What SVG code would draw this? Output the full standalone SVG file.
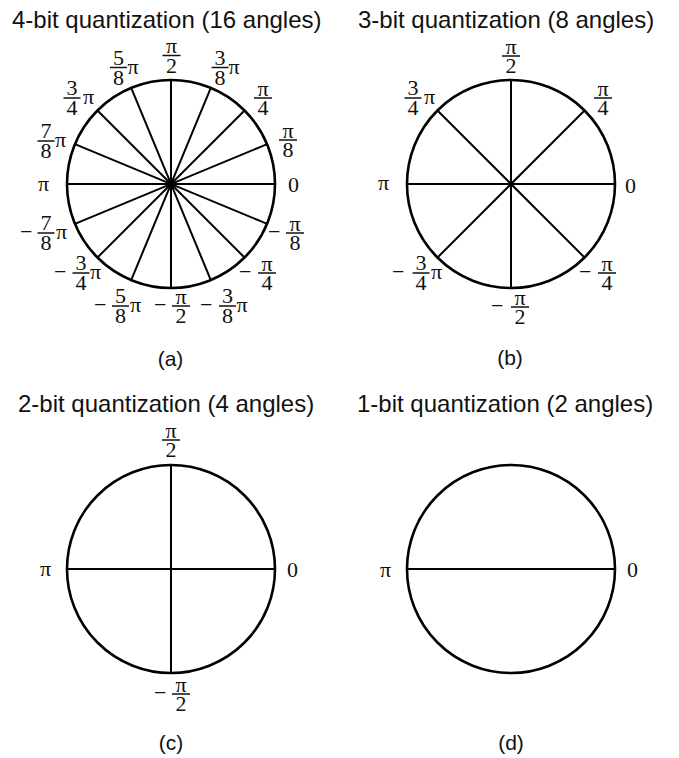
<svg xmlns="http://www.w3.org/2000/svg" width="679" height="758" viewBox="0 0 679 758">
<style>
.ttl{font-family:"Liberation Sans",Arial,sans-serif;font-size:24px;fill:#111}
.cap{font-family:"Liberation Sans",Arial,sans-serif;font-size:21px;fill:#111;text-anchor:middle}
.m{font-family:"Liberation Serif","Times New Roman",serif;font-size:22px;fill:#111;text-anchor:middle}
.s{font-family:"Liberation Serif","Times New Roman",serif;font-size:22px;fill:#111}
.bar{stroke:#111;stroke-width:1.5}
.ring{fill:none;stroke:#000;stroke-width:2.6}
.spoke{stroke:#000;stroke-width:2}
</style>
<rect width="679" height="758" fill="#fff"/>

<g id="panel-a">
<text class="ttl" x="12" y="28">4-bit quantization (16 angles)</text>
<circle class="ring" cx="171" cy="184" r="104"/>
<g id="spokes-a" class="spoke">
<line x1="275" y1="184" x2="67" y2="184"/>
<line x1="267.08" y1="144.2" x2="74.92" y2="223.8"/>
<line x1="244.54" y1="110.46" x2="97.46" y2="257.54"/>
<line x1="210.8" y1="87.92" x2="131.2" y2="280.08"/>
<line x1="171" y1="80" x2="171" y2="288"/>
<line x1="131.2" y1="87.92" x2="210.8" y2="280.08"/>
<line x1="97.46" y1="110.46" x2="244.54" y2="257.54"/>
<line x1="74.92" y1="144.2" x2="267.08" y2="223.8"/>
</g>
<circle cx="171" cy="184" r="3.5" fill="#000"/>
<text class="m"><tspan x="171.5" y="52.5">π</tspan><tspan x="171.5" y="72.5">2</tspan></text><line class="bar" x1="162.5" y1="55.5" x2="180.5" y2="55.5"/>
<text class="m"><tspan x="220" y="64.5">3</tspan><tspan x="220" y="84.5">8</tspan></text><line class="bar" x1="211.5" y1="67.5" x2="228.5" y2="67.5"/><text class="s" x="228.5" y="73.5">π</text>
<text class="m"><tspan x="118.5" y="64.5">5</tspan><tspan x="118.5" y="84.5">8</tspan></text><line class="bar" x1="110" y1="67.5" x2="127" y2="67.5"/><text class="s" x="127.5" y="73.5">π</text>
<text class="m"><tspan x="72" y="95">3</tspan><tspan x="72" y="115">4</tspan></text><line class="bar" x1="63.5" y1="98" x2="80.5" y2="98"/><text class="s" x="83" y="104">π</text>
<text class="m"><tspan x="263" y="95.5">π</tspan><tspan x="263" y="115">4</tspan></text><line class="bar" x1="254" y1="98" x2="272" y2="98"/>
<text class="m"><tspan x="46" y="138">7</tspan><tspan x="46" y="158">8</tspan></text><line class="bar" x1="37.5" y1="141" x2="54.5" y2="141"/><text class="s" x="55" y="147">π</text>
<text class="m"><tspan x="288" y="137.5">π</tspan><tspan x="288" y="157">8</tspan></text><line class="bar" x1="279" y1="140" x2="297" y2="140"/>
<text class="s" x="38" y="191">π</text>
<text class="s" x="288" y="192">0</text>
<text class="s" x="20" y="239">−</text><text class="m"><tspan x="46" y="230">7</tspan><tspan x="46" y="250">8</tspan></text><line class="bar" x1="37.5" y1="233" x2="54.5" y2="233"/><text class="s" x="56" y="239">π</text>
<text class="s" x="268" y="239">−</text><text class="m"><tspan x="295" y="230.5">π</tspan><tspan x="295" y="250">8</tspan></text><line class="bar" x1="286" y1="233" x2="304" y2="233"/>
<text class="s" x="54" y="279">−</text><text class="m"><tspan x="81" y="270">3</tspan><tspan x="81" y="290">4</tspan></text><line class="bar" x1="72.5" y1="273" x2="89.5" y2="273"/><text class="s" x="90" y="279">π</text>
<text class="s" x="239" y="279">−</text><text class="m"><tspan x="267" y="270.5">π</tspan><tspan x="267" y="290">4</tspan></text><line class="bar" x1="258" y1="273" x2="276" y2="273"/>
<text class="s" x="94" y="312">−</text><text class="m"><tspan x="120.5" y="303">5</tspan><tspan x="120.5" y="323">8</tspan></text><line class="bar" x1="112" y1="306" x2="129" y2="306"/><text class="s" x="130" y="312">π</text>
<text class="s" x="154" y="312">−</text><text class="m"><tspan x="181" y="303.5">π</tspan><tspan x="181" y="323">2</tspan></text><line class="bar" x1="172" y1="306" x2="190" y2="306"/>
<text class="s" x="200" y="312">−</text><text class="m"><tspan x="227.5" y="303">3</tspan><tspan x="227.5" y="323">8</tspan></text><line class="bar" x1="219" y1="306" x2="236" y2="306"/><text class="s" x="236.5" y="312">π</text>
<text class="cap" x="170.5" y="366">(a)</text>
</g>

<g id="panel-b">
<text class="ttl" x="358" y="28">3-bit quantization (8 angles)</text>
<circle class="ring" cx="511" cy="184" r="104"/>
<g id="spokes-b" class="spoke">
<line x1="615" y1="184" x2="407" y2="184"/>
<line x1="584.54" y1="110.46" x2="437.46" y2="257.54"/>
<line x1="511" y1="80" x2="511" y2="288"/>
<line x1="437.46" y1="110.46" x2="584.54" y2="257.54"/>
</g>
<circle cx="511" cy="184" r="2.5" fill="#000"/>
<text class="m"><tspan x="511" y="53.5">π</tspan><tspan x="511" y="73">2</tspan></text><line class="bar" x1="502" y1="56" x2="520" y2="56"/>
<text class="m"><tspan x="413" y="95">3</tspan><tspan x="413" y="115">4</tspan></text><line class="bar" x1="404.5" y1="98" x2="421.5" y2="98"/><text class="s" x="424" y="104">π</text>
<text class="m"><tspan x="603" y="95.5">π</tspan><tspan x="603" y="115">4</tspan></text><line class="bar" x1="594" y1="98" x2="612" y2="98"/>
<text class="s" x="378" y="190">π</text>
<text class="s" x="625" y="193">0</text>
<text class="s" x="392" y="279">−</text><text class="m"><tspan x="421" y="270">3</tspan><tspan x="421" y="290">4</tspan></text><line class="bar" x1="412.5" y1="273" x2="429.5" y2="273"/><text class="s" x="431" y="279">π</text>
<text class="s" x="579" y="279">−</text><text class="m"><tspan x="607" y="270.5">π</tspan><tspan x="607" y="290">4</tspan></text><line class="bar" x1="598" y1="273" x2="616" y2="273"/>
<text class="s" x="491" y="313">−</text><text class="m"><tspan x="520" y="304.5">π</tspan><tspan x="520" y="324">2</tspan></text><line class="bar" x1="511" y1="307" x2="529" y2="307"/>
<text class="cap" x="510" y="365">(b)</text>
</g>

<g id="panel-c">
<text class="ttl" x="18" y="412">2-bit quantization (4 angles)</text>
<circle class="ring" cx="171" cy="569" r="104"/>
<g id="spokes-c" class="spoke">
<line x1="275" y1="569" x2="67" y2="569"/>
<line x1="171" y1="465" x2="171" y2="673"/>
</g>
<text class="m"><tspan x="171" y="437.5">π</tspan><tspan x="171" y="457">2</tspan></text><line class="bar" x1="162" y1="440" x2="180" y2="440"/>
<text class="s" x="40" y="576">π</text>
<text class="s" x="287" y="577">0</text>
<text class="s" x="154" y="700">−</text><text class="m"><tspan x="181" y="691.5">π</tspan><tspan x="181" y="711">2</tspan></text><line class="bar" x1="172" y1="694" x2="190" y2="694"/>
<text class="cap" x="171" y="750">(c)</text>
</g>

<g id="panel-d">
<text class="ttl" x="357" y="412">1-bit quantization (2 angles)</text>
<circle class="ring" cx="511" cy="569" r="104"/>
<g id="spokes-d" class="spoke">
<line x1="615" y1="569" x2="407" y2="569"/>
</g>
<text class="s" x="380" y="577">π</text>
<text class="s" x="627" y="577">0</text>
<text class="cap" x="511" y="750">(d)</text>
</g>
</svg>
